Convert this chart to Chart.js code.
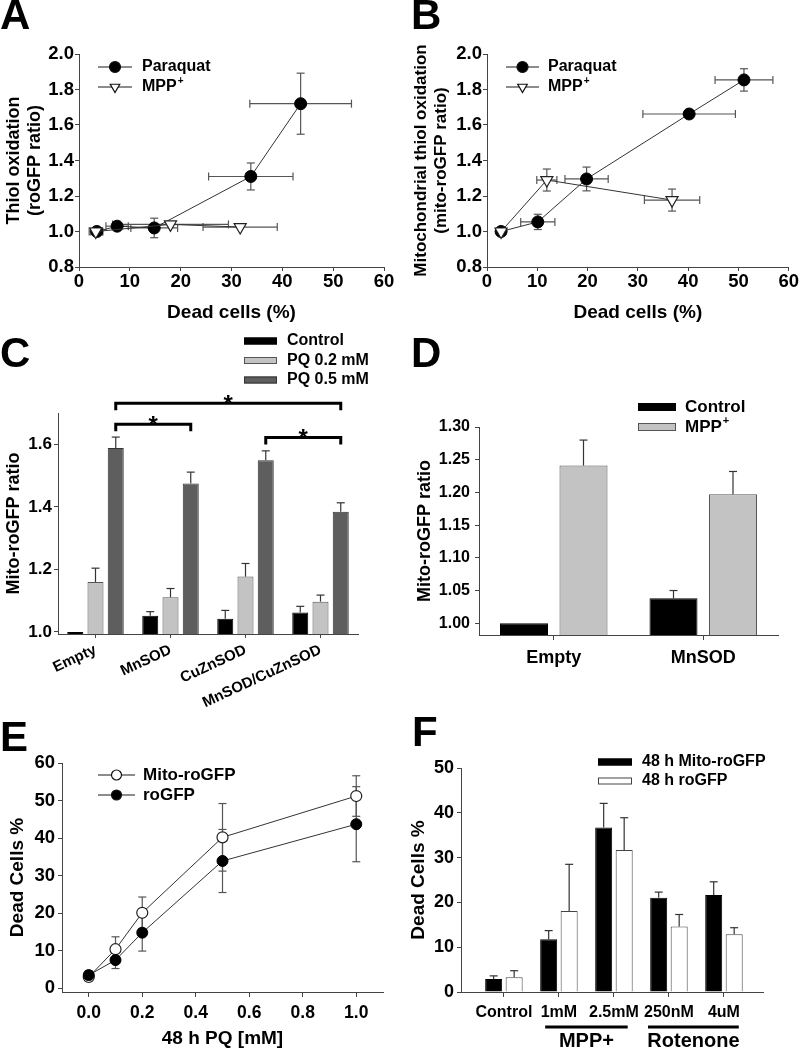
<!DOCTYPE html>
<html>
<head>
<meta charset="utf-8">
<script src="https://cdn.jsdelivr.net/npm/chart.js@4.4.1/dist/chart.umd.min.js"></script>
<style>
  body { margin: 0; background: #fff; }
  #page { position: relative; width: 799px; height: 1050px; overflow: hidden; background: #fff; }
  #page canvas { position: absolute; }
  .letter { position: absolute; font: bold 42px "Liberation Sans", Arial, sans-serif; line-height: 1; color: #000; }
</style>
</head>
<body>
<div id="page">
  <canvas id="chartA" width="400" height="294" style="left:0;top:36px"></canvas>
  <canvas id="chartB" width="399" height="294" style="left:400px;top:36px"></canvas>
  <canvas id="chartC" width="400" height="380" style="left:0;top:330px"></canvas>
  <canvas id="chartD" width="399" height="350" style="left:400px;top:330px"></canvas>
  <canvas id="chartE" width="400" height="350" style="left:0;top:700px"></canvas>
  <canvas id="chartF" width="399" height="350" style="left:400px;top:700px"></canvas>
  <div class="letter" style="left:0;top:-6px">A</div>
  <div class="letter" style="left:411px;top:-6px">B</div>
  <div class="letter" style="left:0;top:332px">C</div>
  <div class="letter" style="left:411px;top:332px">D</div>
  <div class="letter" style="left:0;top:716px">E</div>
  <div class="letter" style="left:412px;top:711px">F</div>
</div>
<script>
// ---- A: roGFP thiol oxidation vs dead cells
const aParaquatX = [3.5, 7.5, 14.8, 33.8, 43.6];
const aParaquatY = [1.00, 1.03, 1.02, 1.31, 1.72];
const aParaquatXErr = [1.2, 2.2, 4.6, 8.3, 10.0];
const aParaquatYErr = [0, 0, 0.055, 0.076, 0.172];
const aMppX = [3.3, 18.0, 31.7];
const aMppY = [1.00, 1.04, 1.025];
const aMppXErr = [1.3, 11.4, 7.3];
const aMppYErr = [0, 0, 0];

// ---- B: mito-roGFP thiol oxidation vs dead cells
const bParaquatX = [2.8, 10.1, 19.8, 40.2, 51.1];
const bParaquatY = [1.00, 1.054, 1.296, 1.662, 1.854];
const bParaquatXErr = [0, 3.4, 4.3, 9.2, 5.75];
const bParaquatYErr = [0, 0.043, 0.067, 0.015, 0.063];
const bMppX = [2.8, 11.9, 36.8];
const bMppY = [1.00, 1.29, 1.177];
const bMppXErr = [0, 2.0, 5.5];
const bMppYErr = [0, 0.062, 0.062];

const abXTicks = [0, 10, 20, 30, 40, 50, 60];
const abYTicks = [0.8, 1.0, 1.2, 1.4, 1.6, 1.8, 2.0];

// ---- C: SOD overexpression, paraquat
const cGroups = ['Empty', 'MnSOD', 'CuZnSOD', 'MnSOD/CuZnSOD'];
const cControl = [1.0, 1.052, 1.042, 1.062];
const cControlErr = [0, 0.013, 0.027, 0.02];
const cPq02 = [1.16, 1.111, 1.177, 1.097];
const cPq02Err = [0.044, 0.028, 0.042, 0.021];
const cPq05 = [1.588, 1.475, 1.549, 1.384];
const cPq05Err = [0.035, 0.036, 0.03, 0.029];
const cYTicks = [1.0, 1.2, 1.4, 1.6];
// significance brackets: from group, to group, level
const cBrackets = [[0, 1, 1.664], [0, 3, 1.731], [2, 3, 1.622]];

// ---- D: MnSOD, MPP+
const dGroups = ['Empty', 'MnSOD'];
const dControl = [1.0, 1.038];
const dControlErr = [0, 0.012];
const dMpp = [1.241, 1.197];
const dMppErr = [0.039, 0.035];
const dYTicks = [1.00, 1.05, 1.10, 1.15, 1.20, 1.25, 1.30];

// ---- E: dead cells vs PQ dose
const eDose = [0, 0.1, 0.2, 0.5, 1.0];
const eMito = [3.0, 10.4, 20.1, 40.2, 51.2];
const eMitoErr = [1.0, 3.3, 4.2, 9.0, 5.4];
const eRo = [3.5, 7.5, 14.8, 33.9, 43.7];
const eRoErr = [1.2, 2.25, 4.9, 8.4, 10.0];
const eXTicks = [0, 0.2, 0.4, 0.6, 0.8, 1.0];
const eYTicks = [0, 10, 20, 30, 40, 50, 60];

// ---- F: dead cells, MPP+ and rotenone
const fGroups = ['Control', '1mM', '2.5mM', '250nM', '4uM'];
const fMito = [2.9, 11.8, 36.7, 21.05, 21.65];
const fMitoErr = [0.7, 1.9, 5.4, 1.25, 2.95];
const fRo = [3.3, 18.1, 31.7, 14.6, 12.9];
const fRoErr = [1.45, 10.4, 7.2, 2.7, 1.45];
const fYTicks = [0, 10, 20, 30, 40, 50];
const fTreatments = [['MPP+', 0.75, 2.25], ['Rotenone', 2.62, 4.27]];

const FONT = '"Liberation Sans", Arial, Helvetica, sans-serif';
const AXIS = '#444';
Chart.defaults.font.family = FONT;
Chart.defaults.font.weight = 'bold';
Chart.defaults.color = '#000';
Chart.defaults.animation = false;
Chart.defaults.events = [];
Chart.defaults.plugins.legend.display = false;
Chart.defaults.plugins.tooltip.enabled = false;

function axis(o) {
    const a = {
        type: o.type || 'linear',
        offset: o.offset || false,
        afterFit: s => { if (s.isHorizontal()) s.height = o.size; else s.width = o.size; },
        border: { color: AXIS, width: 1 },
        grid: { drawOnChartArea: false, color: AXIS, tickLength: o.tickLength || 4, offset: false },
        ticks: { font: { size: o.fontSize }, padding: o.pad || 0, autoSkip: false,
                 minRotation: o.rot || 0, maxRotation: o.rot || 0 },
        title: { display: false }
    };
    if (a.type === 'linear') { a.min = o.min; a.max = o.max; a.beginAtZero = false; }
    if (o.ticks) a.afterBuildTicks = s => { s.ticks = o.ticks.map(v => ({ value: v })); };
    if (o.fmt) a.ticks.callback = o.fmt;
    if (o.title) a.title = { display: true, text: o.title, font: { size: o.titleSize || 18 }, padding: o.titlePad };
    return a;
}

function drawErrors(chart) {
    const ctx = chart.ctx;
    const xs = chart.scales.x, ys = chart.scales.y;
    const seg = (x1, y1, x2, y2) => { ctx.beginPath(); ctx.moveTo(x1, y1); ctx.lineTo(x2, y2); ctx.stroke(); };
    chart.data.datasets.forEach((ds, i) => {
        const meta = chart.getDatasetMeta(i);
        meta.data.forEach((pt, j) => {
            const raw = ds.data[j];
            const yv = typeof raw === 'object' ? raw.y : raw;
            const xv = typeof raw === 'object' ? raw.x : null;
            const cap = ds.errCap || 4;
            ctx.save();
            ctx.strokeStyle = ds.errColor || '#555';
            ctx.lineWidth = 1.2;
            const ye = ds.yErr ? ds.yErr[j] : 0;
            if (ye) {
                const top = ys.getPixelForValue(yv + ye);
                const bot = ds.errUpOnly ? pt.y : ys.getPixelForValue(yv - ye);
                seg(pt.x, top, pt.x, bot);
                seg(pt.x - cap, top, pt.x + cap, top);
                if (!ds.errUpOnly) seg(pt.x - cap, bot, pt.x + cap, bot);
            }
            const xe = ds.xErr ? ds.xErr[j] : 0;
            if (xe && xv !== null) {
                const l = xs.getPixelForValue(xv - xe), r = xs.getPixelForValue(xv + xe);
                seg(l, pt.y, r, pt.y);
                seg(l, pt.y - cap, l, pt.y + cap);
                seg(r, pt.y - cap, r, pt.y + cap);
            }
            ctx.restore();
        });
    });
}

const errorBars = {
    id: 'errorBars',
    beforeDatasetsDraw(chart) { if (chart.config.type !== 'bar') drawErrors(chart); },
    afterDatasetsDraw(chart) { if (chart.config.type === 'bar') drawErrors(chart); }
};

function drawMarker(ctx, kind, x, y, r) {
    ctx.beginPath();
    if (kind === 'tri') {
        ctx.moveTo(x - r * 0.866, y - r * 0.5);
        ctx.lineTo(x + r * 0.866, y - r * 0.5);
        ctx.lineTo(x, y + r);
        ctx.closePath();
    } else {
        ctx.arc(x, y, r, 0, Math.PI * 2);
    }
    ctx.fillStyle = kind === 'dot' ? '#000' : '#fff';
    ctx.fill();
    ctx.strokeStyle = '#111';
    ctx.lineWidth = 1.2;
    ctx.stroke();
}

// legend drawn at fixed spots inside the panel
function legendPlugin(cfg) {
    return {
        id: 'panelLegend',
        afterDraw(chart) {
            const ctx = chart.ctx;
            ctx.save();
            cfg.items.forEach((it, k) => {
                const y = cfg.y + k * cfg.rowH;
                if (cfg.type === 'line') {
                    ctx.strokeStyle = '#666';
                    ctx.lineWidth = 1.5;
                    ctx.beginPath(); ctx.moveTo(cfg.x, y); ctx.lineTo(cfg.x + cfg.w, y); ctx.stroke();
                    drawMarker(ctx, it.marker, cfg.x + cfg.w / 2, y, cfg.r);
                } else {
                    ctx.fillStyle = it.fill;
                    ctx.fillRect(cfg.x, y - cfg.h / 2, cfg.w, cfg.h);
                    ctx.strokeStyle = it.stroke;
                    ctx.lineWidth = 1;
                    ctx.strokeRect(cfg.x + 0.5, y - cfg.h / 2 + 0.5, cfg.w - 1, cfg.h - 1);
                }
                ctx.fillStyle = '#000';
                ctx.textAlign = 'left';
                ctx.textBaseline = 'middle';
                ctx.font = `bold ${cfg.size}px ${FONT}`;
                ctx.fillText(it.label, cfg.tx, y);
                if (it.sup) {
                    const w = ctx.measureText(it.label).width;
                    ctx.font = `bold ${Math.round(cfg.size * 0.65)}px ${FONT}`;
                    ctx.fillText(it.sup, cfg.tx + w + 1, y - cfg.size * 0.38);
                }
            });
            ctx.restore();
        }
    };
}

function pts(xs, ys) { return xs.map((x, i) => ({ x: x, y: ys[i] })); }

const dotSet = (label, data, xErr, yErr, r) => ({
    label, data, xErr, yErr, showLine: true, order: 2,
    borderColor: '#333', borderWidth: 1,
    pointStyle: 'circle', pointRadius: r, pointBackgroundColor: '#000', pointBorderColor: '#000', pointBorderWidth: 1
});
const triSet = (label, data, xErr, yErr) => ({
    label, data, xErr, yErr, showLine: true, order: 1,
    borderColor: '#333', borderWidth: 1,
    pointStyle: 'triangle', pointRotation: 180, pointRadius: 7,
    pointBackgroundColor: '#fff', pointBorderColor: '#222', pointBorderWidth: 1.2
});

// ---------- A
new Chart(document.getElementById('chartA'), {
    type: 'scatter',
    data: { datasets: [
        dotSet('Paraquat', pts(aParaquatX, aParaquatY), aParaquatXErr, aParaquatYErr, 6),
        triSet('MPP+', pts(aMppX, aMppY), aMppXErr, aMppYErr)
    ] },
    options: {
        responsive: false, devicePixelRatio: 1,
        layout: { padding: { top: 18, right: 16, left: 0, bottom: 0 } },
        scales: {
            x: axis({ min: 0, max: 60, ticks: abXTicks, size: 63, fontSize: 18.5, pad: 0,
                      title: 'Dead cells (%)', titleSize: 19, titlePad: { top: 0, bottom: 6 } }),
            y: axis({ min: 0.8, max: 2.0, ticks: abYTicks, size: 79, fontSize: 18.5, pad: 1,
                      fmt: v => v.toFixed(1),
                      title: ['Thiol oxidation', '(roGFP ratio)'], titleSize: 18, titlePad: { top: 3, bottom: 0 } })
        }
    },
    plugins: [errorBars, legendPlugin({ type: 'line', x: 98, w: 34, r: 5.5, y: 31, rowH: 20, tx: 142, size: 16,
        items: [{ label: 'Paraquat', marker: 'dot' }, { label: 'MPP', sup: '+', marker: 'tri' }] })]
});

// ---------- B
new Chart(document.getElementById('chartB'), {
    type: 'scatter',
    data: { datasets: [
        dotSet('Paraquat', pts(bParaquatX, bParaquatY), bParaquatXErr, bParaquatYErr, 6),
        triSet('MPP+', pts(bMppX, bMppY), bMppXErr, bMppYErr)
    ] },
    options: {
        responsive: false, devicePixelRatio: 1,
        layout: { padding: { top: 18, right: 10, left: 0, bottom: 0 } },
        scales: {
            x: axis({ min: 0, max: 60, ticks: abXTicks, size: 63, fontSize: 18.5, pad: 0,
                      title: 'Dead cells (%)', titleSize: 19, titlePad: { top: 0, bottom: 6 } }),
            y: axis({ min: 0.8, max: 2.0, ticks: abYTicks, size: 87, fontSize: 18.5, pad: 1,
                      fmt: v => v.toFixed(1),
                      title: ['Mitochondrial thiol oxidation', '(mito-roGFP ratio)'], titleSize: 17, titlePad: { top: 11, bottom: 0 } })
        }
    },
    plugins: [errorBars, legendPlugin({ type: 'line', x: 106, w: 33, r: 5.5, y: 31, rowH: 20, tx: 148, size: 16,
        items: [{ label: 'Paraquat', marker: 'dot' }, { label: 'MPP', sup: '+', marker: 'tri' }] })]
});

// ---------- C
const bracketPlugin = {
    id: 'brackets',
    afterDraw(chart) {
        const ctx = chart.ctx;
        const meta = chart.getDatasetMeta(2);
        const ys = chart.scales.y;
        ctx.save();
        ctx.strokeStyle = '#000';
        ctx.fillStyle = '#000';
        ctx.lineWidth = 3;
        ctx.font = `bold 24px ${FONT}`;
        ctx.textAlign = 'center';
        ctx.textBaseline = 'alphabetic';
        cBrackets.forEach(([from, to, level]) => {
            const x1 = meta.data[from].x, x2 = meta.data[to].x;
            const y = ys.getPixelForValue(level);
            ctx.beginPath();
            ctx.moveTo(x1, y + 7); ctx.lineTo(x1, y); ctx.lineTo(x2, y); ctx.lineTo(x2, y + 7);
            ctx.stroke();
            ctx.fillText('*', (x1 + x2) / 2, y + 9);
        });
        ctx.restore();
    }
};

new Chart(document.getElementById('chartC'), {
    type: 'bar',
    data: {
        labels: cGroups,
        datasets: [
            { label: 'Control', data: cControl, yErr: cControlErr, errUpOnly: true, errColor: '#333',
              backgroundColor: '#000', borderColor: '#000', borderWidth: 1 },
            { label: 'PQ 0.2 mM', data: cPq02, yErr: cPq02Err, errUpOnly: true, errColor: '#333',
              backgroundColor: '#c3c3c3', borderColor: '#555', borderWidth: 1 },
            { label: 'PQ 0.5 mM', data: cPq05, yErr: cPq05Err, errUpOnly: true, errColor: '#333',
              backgroundColor: '#5e5e5e', borderColor: '#333', borderWidth: 1 }
        ]
    },
    options: {
        responsive: false, devicePixelRatio: 1,
        categoryPercentage: 0.81, barPercentage: 0.79,
        layout: { padding: { top: 83, right: 42, left: 0, bottom: 0 } },
        scales: {
            x: axis({ type: 'category', offset: true, size: 76, fontSize: 15, pad: 3, rot: 25 }),
            y: axis({ min: 0.9936, max: 1.7, ticks: cYTicks, size: 58, fontSize: 17, pad: 2,
                      fmt: v => v.toFixed(1),
                      title: 'Mito-roGFP ratio', titlePad: { top: 3, bottom: 0 } })
        }
    },
    plugins: [errorBars, bracketPlugin, legendPlugin({ type: 'box', x: 244, w: 33, h: 7, y: 11, rowH: 19.5, tx: 287, size: 16,
        items: [{ label: 'Control', fill: '#000', stroke: '#000' },
                { label: 'PQ 0.2 mM', fill: '#c3c3c3', stroke: '#555' },
                { label: 'PQ 0.5 mM', fill: '#5e5e5e', stroke: '#333' }] })]
});

// ---------- D
new Chart(document.getElementById('chartD'), {
    type: 'bar',
    data: {
        labels: dGroups,
        datasets: [
            { label: 'Control', data: dControl, yErr: dControlErr, errUpOnly: true, errColor: '#333',
              backgroundColor: '#000', borderColor: '#000', borderWidth: 1 },
            { label: 'MPP+', data: dMpp, yErr: dMppErr, errUpOnly: true, errColor: '#333',
              backgroundColor: '#c3c3c3', borderColor: '#555', borderWidth: 1 }
        ]
    },
    options: {
        responsive: false, devicePixelRatio: 1,
        categoryPercentage: 0.796, barPercentage: 0.807,
        layout: { padding: { top: 97, right: 21, left: 0, bottom: 0 } },
        scales: {
            x: axis({ type: 'category', offset: true, size: 45, fontSize: 18, pad: 7, tickLength: 5 }),
            y: axis({ min: 0.982, max: 1.30, ticks: dYTicks, size: 79, fontSize: 16, pad: 5,
                      fmt: v => v.toFixed(2),
                      title: 'Mito-roGFP ratio', titlePad: { top: 14, bottom: 0 } })
        }
    },
    plugins: [errorBars, legendPlugin({ type: 'box', x: 238, w: 38, h: 8, y: 77, rowH: 20, tx: 285, size: 17,
        items: [{ label: 'Control', fill: '#000', stroke: '#000' },
                { label: 'MPP', sup: '+', fill: '#c3c3c3', stroke: '#555' }] })]
});

// ---------- E
new Chart(document.getElementById('chartE'), {
    type: 'scatter',
    data: { datasets: [
        { label: 'Mito-roGFP', data: pts(eDose, eMito), yErr: eMitoErr, showLine: true, order: 2,
          borderColor: '#333', borderWidth: 1, pointStyle: 'circle', pointRadius: 5.5,
          pointBackgroundColor: '#fff', pointBorderColor: '#222', pointBorderWidth: 1.2 },
        { label: 'roGFP', data: pts(eDose, eRo), yErr: eRoErr, showLine: true, order: 1,
          borderColor: '#333', borderWidth: 1, pointStyle: 'circle', pointRadius: 5.5,
          pointBackgroundColor: '#000', pointBorderColor: '#000', pointBorderWidth: 1 }
    ] },
    options: {
        responsive: false, devicePixelRatio: 1,
        layout: { padding: { top: 63, right: 17, left: 0, bottom: 0 } },
        scales: {
            x: axis({ min: -0.1, max: 1.1, ticks: eXTicks, size: 58, fontSize: 17.5, pad: 6, tickLength: 5,
                      fmt: v => v.toFixed(1),
                      title: '48 h PQ [mM]', titleSize: 19, titlePad: { top: 0, bottom: 0 } }),
            y: axis({ min: -1, max: 60, ticks: eYTicks, size: 62, fontSize: 18.5, pad: 3,
                      title: 'Dead Cells %', titleSize: 19, titlePad: { top: 6, bottom: 0 } })
        }
    },
    plugins: [errorBars, legendPlugin({ type: 'line', x: 98, w: 37, r: 5, y: 75, rowH: 20, tx: 143, size: 17,
        items: [{ label: 'Mito-roGFP', marker: 'ring' }, { label: 'roGFP', marker: 'dot' }] })]
});

// ---------- F
const treatmentPlugin = {
    id: 'treatments',
    afterDraw(chart) {
        const ctx = chart.ctx;
        const xs = chart.scales.x;
        const base = chart.chartArea.bottom;
        ctx.save();
        ctx.strokeStyle = '#000';
        ctx.fillStyle = '#000';
        ctx.lineWidth = 3;
        ctx.font = `bold 20px ${FONT}`;
        ctx.textAlign = 'center';
        ctx.textBaseline = 'middle';
        fTreatments.forEach(([name, from, to]) => {
            const x1 = xs.getPixelForValue(from), x2 = xs.getPixelForValue(to);
            ctx.beginPath(); ctx.moveTo(x1, base + 35); ctx.lineTo(x2, base + 35); ctx.stroke();
            ctx.fillText(name, (x1 + x2) / 2, base + 49);
        });
        ctx.restore();
    }
};

new Chart(document.getElementById('chartF'), {
    type: 'bar',
    data: { datasets: [
        { label: '48 h Mito-roGFP', data: pts([0, 1, 2, 3, 4], fMito), yErr: fMitoErr, errUpOnly: true, errColor: '#333',
          backgroundColor: '#000', borderColor: '#000', borderWidth: 1 },
        { label: '48 h roGFP', data: pts([0, 1, 2, 3, 4], fRo), yErr: fRoErr, errUpOnly: true, errColor: '#333',
          backgroundColor: '#fff', borderColor: '#444', borderWidth: 1 }
    ] },
    options: {
        responsive: false, devicePixelRatio: 1,
        categoryPercentage: 0.745, barPercentage: 0.83,
        layout: { padding: { top: 68, right: 36, left: 0, bottom: 0 } },
        scales: {
            x: axis({ min: -0.78, max: 4.71, ticks: [0, 1, 2, 3, 4], size: 58, fontSize: 16, pad: 6, tickLength: 5,
                      fmt: v => fGroups[v] }),
            y: axis({ min: 0, max: 50, ticks: fYTicks, size: 61, fontSize: 18, pad: 3,
                      title: 'Dead Cells %', titleSize: 19, titlePad: { top: 7, bottom: 0 } })
        }
    },
    plugins: [errorBars, treatmentPlugin, legendPlugin({ type: 'box', x: 198, w: 34, h: 7, y: 62, rowH: 19, tx: 242, size: 16,
        items: [{ label: '48 h Mito-roGFP', fill: '#000', stroke: '#000' },
                { label: '48 h roGFP', fill: '#fff', stroke: '#444' }] })]
});
</script>
</body>
</html>
